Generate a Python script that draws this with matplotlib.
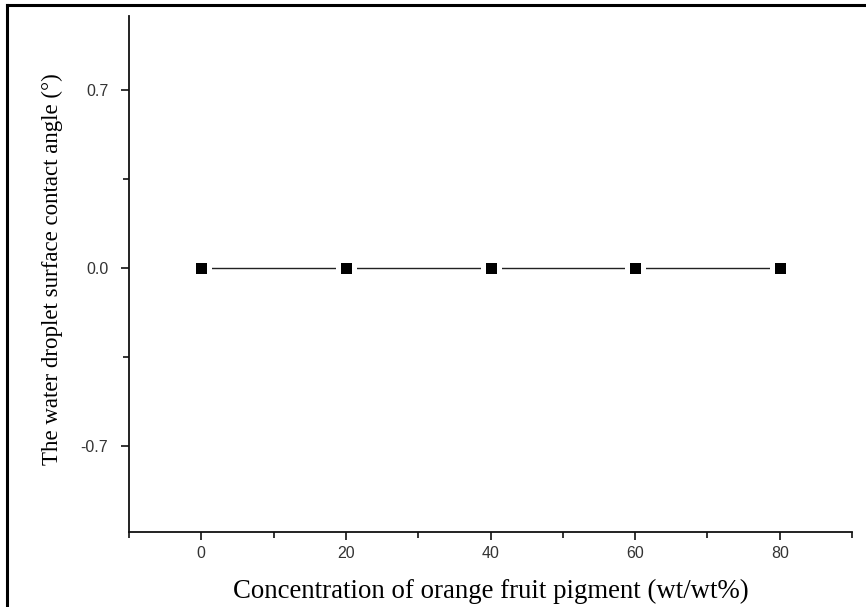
import matplotlib
matplotlib.use("Agg")
import matplotlib.pyplot as plt
from matplotlib.ticker import FixedLocator, FixedFormatter
from matplotlib.lines import Line2D

concentration = [0, 20, 40, 60, 80]
contact_angle = [0.0, 0.0, 0.0, 0.0, 0.0]
x_major = [0, 20, 40, 60, 80]
x_minor = [-10, 10, 30, 50, 70, 90]
y_major = [-0.7, 0.0, 0.7]
y_labels = ["-0.7", "0.0", "0.7"]
y_minor = [-0.35, 0.35]

fig = plt.figure(figsize=(8.66, 6.07), dpi=100)
ax = fig.add_axes([129/866, 1-532/607, (852-129)/866, (532-16)/607])

ax.plot(concentration, contact_angle, color="#222222", lw=1.0, zorder=2)
ax.plot(concentration, contact_angle, ls="none", marker="s", ms=12.2,
        mfc="black", mec="white", mew=3.6, zorder=3)

ax.set_xlim(-10, 90)
ax.set_ylim(-1.04, 0.99)

for s in ["top", "right"]:
    ax.spines[s].set_visible(False)
for s in ["left", "bottom"]:
    ax.spines[s].set_linewidth(1.3)
    ax.spines[s].set_color("#111111")

ax.xaxis.set_major_locator(FixedLocator(x_major))
ax.xaxis.set_minor_locator(FixedLocator(x_minor))
ax.yaxis.set_major_locator(FixedLocator(y_major))
ax.yaxis.set_major_formatter(FixedFormatter(y_labels))
ax.yaxis.set_minor_locator(FixedLocator(y_minor))

ax.tick_params(which="major", direction="out", length=6, width=1.2, labelsize=11.5,
               colors="#111111")
ax.tick_params(axis="y", which="major", pad=9)
ax.tick_params(axis="x", which="major", pad=4)
ax.tick_params(which="minor", direction="out", length=4, width=1.2, colors="#111111")
for lab in ax.get_xticklabels() + ax.get_yticklabels():
    lab.set_family(["Liberation Sans", "DejaVu Sans"])
    lab.set_color("#333333")

ax.set_xlabel("Concentration of orange fruit pigment (wt/wt%)",
              fontsize=19.3, family=["Liberation Serif", "DejaVu Serif"], labelpad=13)
ax.set_ylabel("The water droplet surface contact angle (\u00b0)",
              fontsize=16.5, family=["Liberation Serif", "DejaVu Serif"], labelpad=16)
ax.yaxis.set_label_coords(-0.091, 0.51)

# partial frame (left and top only)
fig.add_artist(Line2D([7.5/866, 7.5/866], [0, 1-5/607], transform=fig.transFigure,
                      color="black", lw=2.2))
fig.add_artist(Line2D([7.5/866, 1], [1-5/607, 1-5/607], transform=fig.transFigure,
                      color="black", lw=2.2))

fig.savefig("out.png", dpi=100)
